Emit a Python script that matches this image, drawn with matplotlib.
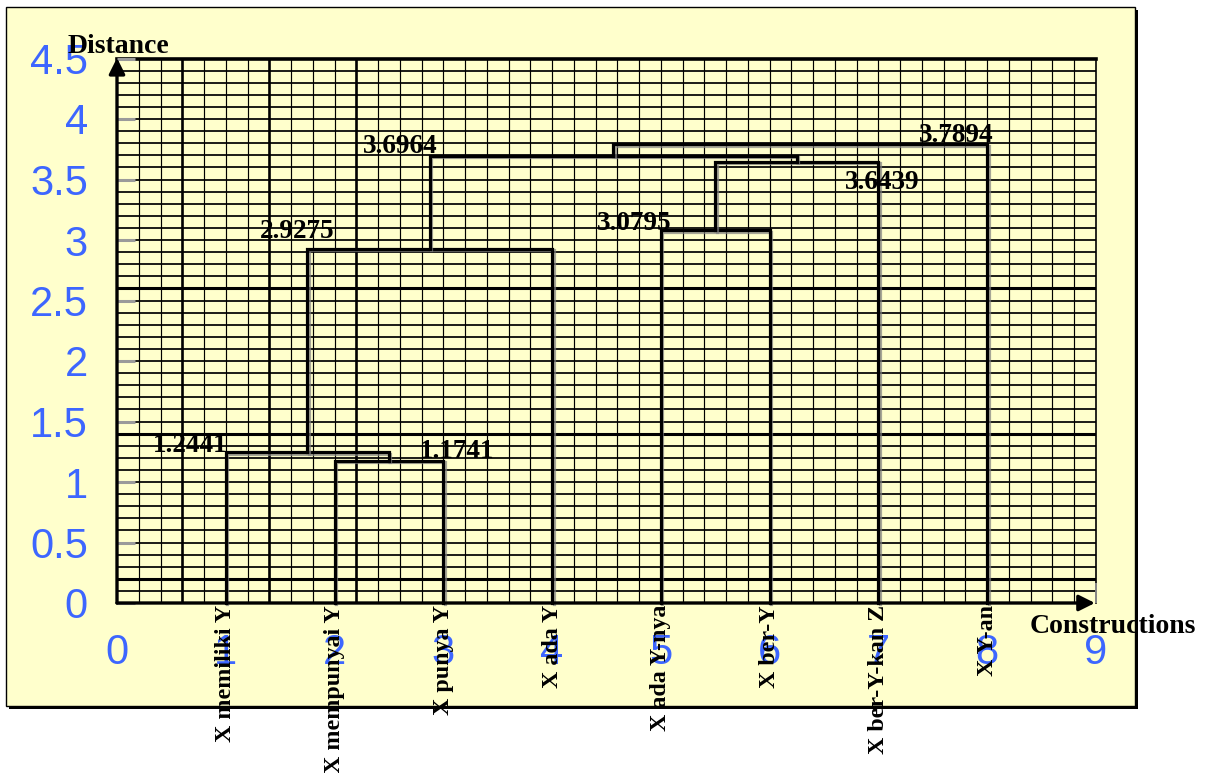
import matplotlib
matplotlib.use("Agg")
import matplotlib.pyplot as plt
import matplotlib.patheffects as pe
from matplotlib.patches import Rectangle

# ---------------- data ----------------
leaf_labels = ["X memiliki Y", "X mempunyai Y", "X punya Y", "X ada Y",
               "X ada Y-nya", "X ber-Y", "X ber-Y-kan Z", "X Y-an"]
# scipy-like linkage: leaves are 0..7, merged clusters get ids 8, 9, ...
merge_children = [(1, 2), (0, 8), (9, 3), (4, 5), (11, 6), (10, 12), (13, 7)]
merge_heights = [1.1741, 1.2441, 2.9275, 3.0795, 3.6439, 3.6964, 3.7894]
x_ticks = [0, 1, 2, 3, 4, 5, 6, 7, 8, 9]
x_tick_labels = ["0", "1", "2", "3", "4", "5", "6", "7", "8", "9"]
y_ticks = [0, 0.5, 1, 1.5, 2, 2.5, 3, 3.5, 4, 4.5]
y_tick_labels = ["0", "0.5", "1", "1.5", "2", "2.5", "3", "3.5", "4", "4.5"]
x_title = "Constructions"
y_title = "Distance"

# ---------------- style ----------------
# value-label placement: (corner, dx, dy, ha, va)
label_style = [
    ("right", 0.47, 0.025, "right", "baseline"),
    ("left", 0.02, 0.0, "right", "baseline"),
    ("left", 0.25, 0.09, "right", "baseline"),
    ("left", 0.10, 0.0, "right", "baseline"),
    ("right", 0.38, -0.065, "right", "top"),
    ("left", 0.07, 0.02, "right", "baseline"),
    ("right", 0.06, 0.02, "right", "baseline"),
]
BLUE = "#3d66ff"
PANEL = "#ffffcc"
SERIF = "Liberation Serif"
plt.rcParams["font.family"] = ["Liberation Sans", "DejaVu Sans"]

W, H = 1207, 773
fig = plt.figure(figsize=(W / 100, H / 100), dpi=100)
fig.patch.set_facecolor("white")


def fx(px):
    return px / W


def fy(py):
    return 1 - py / H


# panel with drop shadow
fig.add_artist(Rectangle((fx(9), fy(709)), (1138 - 9) / W, (709 - 10) / H,
                         transform=fig.transFigure, fc="black", ec="none", zorder=-10))
fig.add_artist(Rectangle((fx(6), fy(706)), (1135 - 6) / W, (706 - 7) / H,
                         transform=fig.transFigure, fc=PANEL, ec="black", lw=1.0, zorder=-9))

ax = fig.add_axes([fx(117), 1 - 603 / H, (1096 - 117) / W, (603 - 58.5) / H])
ax.set_xlim(0, 9)
ax.set_ylim(0, 4.5)
ax.patch.set_visible(False)
for s in ax.spines.values():
    s.set_visible(False)

# graph-paper grid
for i in range(1, 45):
    x = round(i * 0.2, 1)
    lw = 1.9 if x in (0.6, 1.4, 2.2) else 0.85
    ax.axvline(x, color="black", lw=lw, zorder=1)
for j in range(1, 45):
    y = round(j * 0.1, 1)
    lw = 2.2 if y in (0.2, 1.4, 2.6) else 1.25
    ax.axhline(y, color="black", lw=lw, zorder=1)
ax.axhline(4.5, color="black", lw=2.6, zorder=1, clip_on=False)
ax.axvline(9, color="black", lw=1.2, zorder=1, clip_on=False)

# ticks
ax.set_xticks(x_ticks, x_tick_labels)
ax.set_yticks(y_ticks, y_tick_labels)
ax.tick_params(axis="x", direction="in", length=14.4, width=1.2, color="#9a9a9a",
               pad=21.6, labelsize=30, labelcolor=BLUE)
ax.tick_params(axis="y", direction="in", length=13, width=2.2, color="#9a9a9a",
               pad=21, labelsize=30, labelcolor=BLUE)

# dendrogram
n = len(leaf_labels)
pos = {i: (i + 1, 0.0) for i in range(n)}
shadow = [pe.SimpleLineShadow(offset=(1.0, -1.0), shadow_color="gray", alpha=0.7), pe.Normal()]
for k, ((a, b), h) in enumerate(zip(merge_children, merge_heights)):
    xa, ya = pos[a]
    xb, yb = pos[b]
    ax.plot([xa, xa, xb, xb], [ya, h, h, yb], color="black", lw=2.3,
            solid_joinstyle="miter", zorder=4, path_effects=shadow, clip_on=False)
    pos[n + k] = ((xa + xb) / 2, h)
    corner, dx, dy, ha, va = label_style[k]
    x0 = xa if corner == "left" else xb
    ax.text(x0 + dx, h + dy, f"{h:.4f}", ha=ha, va=va, fontsize=19.5,
            fontweight="bold", family=SERIF, color="black", zorder=6)

# leaf labels
for i, lab in enumerate(leaf_labels):
    ax.text(i + 1, -0.017, lab, rotation=90, ha="center", va="top", fontsize=17.3,
            fontweight="bold", family=SERIF, color="black", zorder=6, clip_on=False)

# axis arrows
arrow = dict(arrowstyle="-|>", color="black", lw=2.4, mutation_scale=24,
             shrinkA=0, shrinkB=0)
ax.annotate("", xy=(0, 4.505), xytext=(0, 0), arrowprops=arrow,
            annotation_clip=False, zorder=5)
ax.annotate("", xy=(8.99, 0), xytext=(0, 0), arrowprops=arrow,
            annotation_clip=False, zorder=5)

# axis titles
fig.text(fx(68), fy(53), y_title, ha="left", va="baseline", fontsize=20,
         fontweight="bold", family=SERIF, color="black")
fig.text(fx(1030), fy(633), x_title, ha="left", va="baseline", fontsize=20,
         fontweight="bold", family=SERIF, color="black")

fig.savefig("out.png", dpi=100)
